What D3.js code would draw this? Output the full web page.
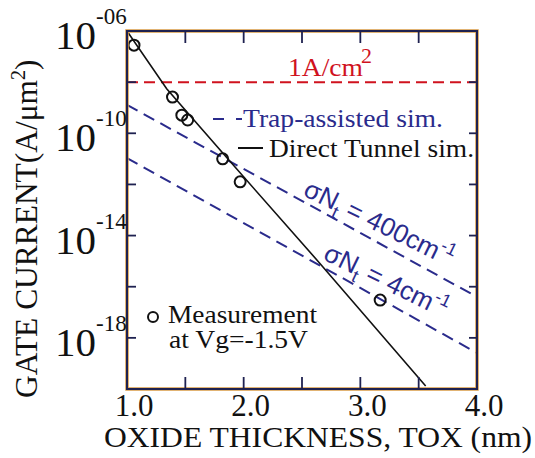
<!DOCTYPE html>
<html>
<head>
<meta charset="utf-8">
<script src="https://cdn.jsdelivr.net/npm/d3@7"></script>
<style>
  body { margin: 0; background: #fff; }
  svg { display: block; }
  text { font-family: "Liberation Serif", "Times New Roman", serif; }
  .sans { font-family: "Liberation Sans", Arial, sans-serif; }
</style>
</head>
<body>
<div id="chart"></div>
<script>
// measured gate current, Vg = -1.5V
const measTox = [1.06, 1.39, 1.47, 1.52, 1.82, 1.97, 3.17];
const measJ = [2.8e-7, 2.6e-9, 5.1e-10, 3.3e-10, 1.0e-11, 1.26e-12, 3.0e-17];

// direct tunnel simulation
const tunnelTox = [1.0, 1.34, 1.86, 2.65, 3.56];
const tunnelJ = [1.0e-6, 5.5e-9, 1.05e-11, 8.5e-16, 1.3e-20];

// trap-assisted simulation, sigma*Nt = 400 and 4 cm^-1
const trapTox = [1.0, 4.0];
const trapHighJ = [1.28e-9, 4.0e-17];
const trapLowJ = [1.07e-11, 2.57e-19];

// 1 A/cm2 limit
const limitJ = 1e-8;

const xTicks = [1.5, 2.0, 2.5, 3.0, 3.5];
const xLabels = [1.0, 2.0, 3.0, 4.0];
const yTicks = [1e-8, 1e-10, 1e-12, 1e-14, 1e-16, 1e-18];
const yLabels = [1e-6, 1e-10, 1e-14, 1e-18];
const yLabelExp = ['-06', '-10', '-14', '-18'];

const width = 535;
const height = 458;
const plot = { left: 127, right: 477, top: 31, bottom: 389 };

const navy = '#2a2b8c';
const red = '#d0121e';
const frame = '#1e2150';

const svg = d3.select('#chart').append('svg')
  .attr('width', width)
  .attr('height', height);

svg.append('rect').attr('width', width).attr('height', height).attr('fill', '#fff');

const x = d3.scaleLinear().domain([1.0, 4.0]).range([plot.left, plot.right]);
const y = d3.scaleLog().domain([1e-20, 1e-6]).range([plot.bottom, plot.top]);

svg.append('clipPath').attr('id', 'clip')
  .append('rect')
  .attr('x', plot.left).attr('y', plot.top)
  .attr('width', plot.right - plot.left).attr('height', plot.bottom - plot.top);

const g = svg.append('g').attr('clip-path', 'url(#clip)');

// red limit line
g.append('line')
  .attr('x1', x(1.0)).attr('x2', x(4.0))
  .attr('y1', y(limitJ)).attr('y2', y(limitJ))
  .attr('stroke', red).attr('stroke-width', 2)
  .attr('stroke-dasharray', '11,6');

const line = d3.line()
  .x(d => x(d[0]))
  .y(d => y(d[1]));

// trap-assisted lines
[trapHighJ, trapLowJ].forEach((js) => {
  g.append('path')
    .datum(trapTox.map((t, i) => [t, js[i]]))
    .attr('d', line)
    .attr('fill', 'none')
    .attr('stroke', navy).attr('stroke-width', 2)
    .attr('stroke-dasharray', '12,7');
});

// direct tunnel line
g.append('path')
  .datum(tunnelTox.map((t, i) => [t, tunnelJ[i]]))
  .attr('d', line)
  .attr('fill', 'none')
  .attr('stroke', '#111').attr('stroke-width', 1.6);

// measurements
g.selectAll('circle.meas')
  .data(measTox.map((t, i) => [t, measJ[i]]))
  .join('circle')
  .attr('class', 'meas')
  .attr('cx', d => x(d[0]))
  .attr('cy', d => y(d[1]))
  .attr('r', 5.5)
  .attr('fill', 'none')
  .attr('stroke', '#111').attr('stroke-width', 2);

// frame
const axisG = svg.append('g');
axisG.append('rect')
  .attr('x', plot.left).attr('y', plot.top)
  .attr('width', plot.right - plot.left).attr('height', plot.bottom - plot.top)
  .attr('fill', 'none').attr('stroke', '#d89a45').attr('stroke-width', 3.5);
axisG.append('rect')
  .attr('x', plot.left).attr('y', plot.top)
  .attr('width', plot.right - plot.left).attr('height', plot.bottom - plot.top)
  .attr('fill', 'none').attr('stroke', frame).attr('stroke-width', 2);

// ticks, all pointing inward
xTicks.forEach((t) => {
  axisG.append('line').attr('x1', x(t)).attr('x2', x(t))
    .attr('y1', plot.bottom).attr('y2', plot.bottom - 12)
    .attr('stroke', frame).attr('stroke-width', 1.8);
  axisG.append('line').attr('x1', x(t)).attr('x2', x(t))
    .attr('y1', plot.top).attr('y2', plot.top + 12)
    .attr('stroke', frame).attr('stroke-width', 1.8);
});
yTicks.forEach((t) => {
  axisG.append('line').attr('x1', plot.left).attr('x2', plot.left + 9)
    .attr('y1', y(t)).attr('y2', y(t))
    .attr('stroke', frame).attr('stroke-width', 1.8);
  axisG.append('line').attr('x1', plot.right).attr('x2', plot.right - 8)
    .attr('y1', y(t)).attr('y2', y(t))
    .attr('stroke', frame).attr('stroke-width', 1.8);
});

// x tick labels
svg.selectAll('text.xl')
  .data(xLabels)
  .join('text')
  .attr('class', 'xl')
  .attr('x', d => x(d) + 7)
  .attr('y', 416)
  .attr('text-anchor', 'middle')
  .attr('font-size', 31)
  .attr('fill', '#111')
  .text(d => d.toFixed(1));

// y tick labels, 10 with superscript exponent
yLabels.forEach((v, i) => {
  const t = svg.append('text')
    .attr('x', 55)
    .attr('y', y(v) + 18)
    .attr('font-size', 41)
    .attr('fill', '#111');
  t.append('tspan').text('10');
  t.append('tspan').attr('font-size', 23).attr('dy', -25).text(yLabelExp[i]);
});

// axis titles
svg.append('text')
  .attr('x', 104)
  .attr('y', 447)
  .attr('font-size', 30)
  .attr('textLength', 428)
  .attr('lengthAdjust', 'spacingAndGlyphs')
  .attr('fill', '#111')
  .text('OXIDE THICKNESS, TOX (nm)');

const yt = svg.append('text')
  .attr('transform', 'translate(37,398) rotate(-90)')
  .attr('font-size', 31)
  .attr('fill', '#111');
yt.append('tspan').attr('textLength', 318).attr('lengthAdjust', 'spacingAndGlyphs')
  .text('GATE CURRENT(A/\u03bcm');
yt.append('tspan').attr('font-size', 20).attr('dy', -12).text('2');
yt.append('tspan').attr('dy', 12).text(')');

// 1A/cm2 label
const lim = svg.append('text')
  .attr('x', 288).attr('y', 76)
  .attr('font-size', 26)
  .attr('fill', red);
lim.append('tspan').attr('textLength', 75).attr('lengthAdjust', 'spacingAndGlyphs').text('1A/cm');
lim.append('tspan').attr('font-size', 22).attr('dy', -13).attr('dx', -2).text('2');

// legend: trap-assisted
svg.append('line').attr('x1', 213).attr('x2', 224).attr('y1', 119).attr('y2', 119)
  .attr('stroke', navy).attr('stroke-width', 2);
svg.append('line').attr('x1', 236).attr('x2', 242).attr('y1', 119).attr('y2', 119)
  .attr('stroke', navy).attr('stroke-width', 2);
svg.append('text')
  .attr('x', 243).attr('y', 127)
  .attr('font-size', 26)
  .attr('textLength', 200)
  .attr('lengthAdjust', 'spacingAndGlyphs')
  .attr('fill', navy)
  .text('Trap-assisted sim.');

// legend: direct tunnel
svg.append('line').attr('x1', 238).attr('x2', 263).attr('y1', 148).attr('y2', 148)
  .attr('stroke', '#111').attr('stroke-width', 2);
svg.append('text')
  .attr('x', 269).attr('y', 157)
  .attr('font-size', 26)
  .attr('textLength', 205)
  .attr('lengthAdjust', 'spacingAndGlyphs')
  .attr('fill', '#111')
  .text('Direct Tunnel sim.');

// legend: measurement
svg.append('circle').attr('cx', 153).attr('cy', 317).attr('r', 5)
  .attr('fill', 'none').attr('stroke', '#111').attr('stroke-width', 2);
svg.append('text')
  .attr('x', 168).attr('y', 323)
  .attr('font-size', 25)
  .attr('textLength', 149)
  .attr('lengthAdjust', 'spacingAndGlyphs')
  .attr('fill', '#111')
  .text('Measurement');
svg.append('text')
  .attr('x', 169).attr('y', 348)
  .attr('font-size', 25)
  .attr('textLength', 139)
  .attr('lengthAdjust', 'spacingAndGlyphs')
  .attr('fill', '#111')
  .text('at Vg=-1.5V');

// sigma*Nt labels along the trap-assisted lines
function sigmaLabel(px, py, value) {
  const t = svg.append('text')
    .attr('class', 'sans')
    .attr('transform', `translate(${px},${py}) rotate(26)`)
    .attr('font-size', 26)
    .attr('fill', navy);
  t.append('tspan').text('\u03c3N');
  t.append('tspan').attr('font-size', 18).attr('dy', 7).text('t');
  t.append('tspan').attr('dy', -7).text(` = ${value}cm`);
  t.append('tspan').attr('font-size', 18).attr('dy', -11).text('-1');
}
sigmaLabel(302, 195, '400');
sigmaLabel(322, 259, '4');
</script>
</body>
</html>
